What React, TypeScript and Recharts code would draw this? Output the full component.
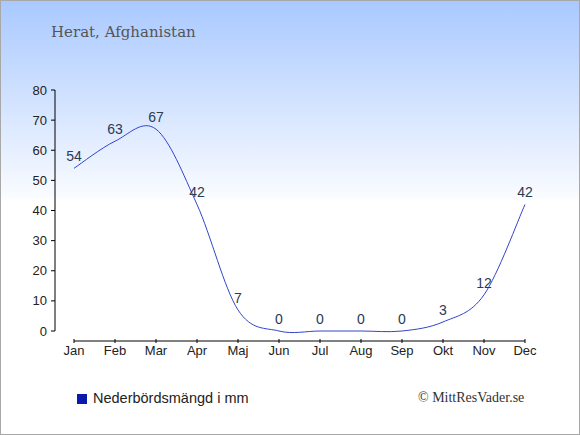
import { LineChart, Line, XAxis, YAxis, LabelList } from 'recharts'

const months = ['Jan', 'Feb', 'Mar', 'Apr', 'Maj', 'Jun', 'Jul', 'Aug', 'Sep', 'Okt', 'Nov', 'Dec']
const rainfall = [54, 63, 67, 42, 7, 0, 0, 0, 0, 3, 12, 42]
const yTicks = [0, 10, 20, 30, 40, 50, 60, 70, 80]

const chartData = months.map((month, i) => ({ month, rain: rainfall[i] }))

// catmull-rom style curve (d3 curve factory shape), gives the slight overshoot of the original
function cardinalCurve(context: any) {
  let pts: number[][] = []
  return {
    areaStart() {},
    areaEnd() {},
    lineStart() { pts = [] },
    point(x: number, y: number) { pts.push([+x, +y]) },
    lineEnd() {
      if (!pts.length) return
      context.moveTo(pts[0][0], pts[0][1])
      for (let i = 0; i < pts.length - 1; i++) {
        const p0 = pts[i - 1] || pts[i]
        const p1 = pts[i]
        const p2 = pts[i + 1]
        const p3 = pts[i + 2] || p2
        context.bezierCurveTo(
          p1[0] + (p2[0] - p0[0]) / 6, p1[1] + (p2[1] - p0[1]) / 6,
          p2[0] - (p3[0] - p1[0]) / 6, p2[1] - (p3[1] - p1[1]) / 6,
          p2[0], p2[1]
        )
      }
    },
  }
}

const sans = '"Liberation Sans", Arial, sans-serif'
const serif = '"Liberation Serif", "DejaVu Serif", serif'

export default function App() {
  return (
    <div
      style={{
        position: 'relative',
        width: 580,
        height: 435,
        boxSizing: 'border-box',
        border: '1px solid #a8a8a8',
        background: 'linear-gradient(to bottom, #a9c9ff 0px, #f9fbff 195px, #ffffff 200px)',
        overflow: 'hidden',
      }}
    >
      <style>{'body { margin: 0; }'}</style>
      <div style={{ position: 'absolute', left: 50, top: 22, fontFamily: '"DejaVu Serif", serif', fontSize: 15, color: '#555' }}>
        Herat, Afghanistan
      </div>
      <LineChart
        width={578}
        height={433}
        data={chartData}
        margin={{ top: 89, right: 54, left: 33, bottom: 73 }}
        style={{ position: 'absolute', left: 0, top: 0 }}
      >
        <XAxis
          dataKey="month"
          interval={0}
          tickSize={4}
          axisLine={{ stroke: '#000', transform: 'translate(0,10)' }}
          tickLine={{ stroke: '#000', transform: 'translate(0,8)' }}
          tick={{ fill: '#222', fontSize: 13, fontFamily: sans, dy: 9 }}
          height={30}
        />
        <YAxis
          domain={[0, 80]}
          ticks={yTicks}
          tickSize={4}
          tickMargin={4}
          width={40}
          axisLine={{ stroke: '#000', transform: 'translate(-19,0)' }}
          tickLine={{ stroke: '#000', transform: 'translate(-19,0)' }}
          tick={{ fill: '#222', fontSize: 13, fontFamily: sans, dx: -19 }}
        />
        <Line
          dataKey="rain"
          type={cardinalCurve as any}
          stroke="#3344cc"
          strokeWidth={1}
          dot={false}
          isAnimationActive={false}
        >
          <LabelList dataKey="rain" position="top" offset={7} fill="#2b3a55" fontSize={14} fontFamily={sans} />
        </Line>
      </LineChart>
      <div style={{ position: 'absolute', left: 76, top: 393, width: 10, height: 10, background: '#0a1aaa' }} />
      <div style={{ position: 'absolute', left: 92, top: 389, fontFamily: sans, fontSize: 14.5, color: '#222' }}>
        Nederbördsmängd i mm
      </div>
      <div style={{ position: 'absolute', left: 417, top: 389, fontFamily: serif, fontSize: 14, color: '#333' }}>
        © MittResVader.se
      </div>
    </div>
  )
}
